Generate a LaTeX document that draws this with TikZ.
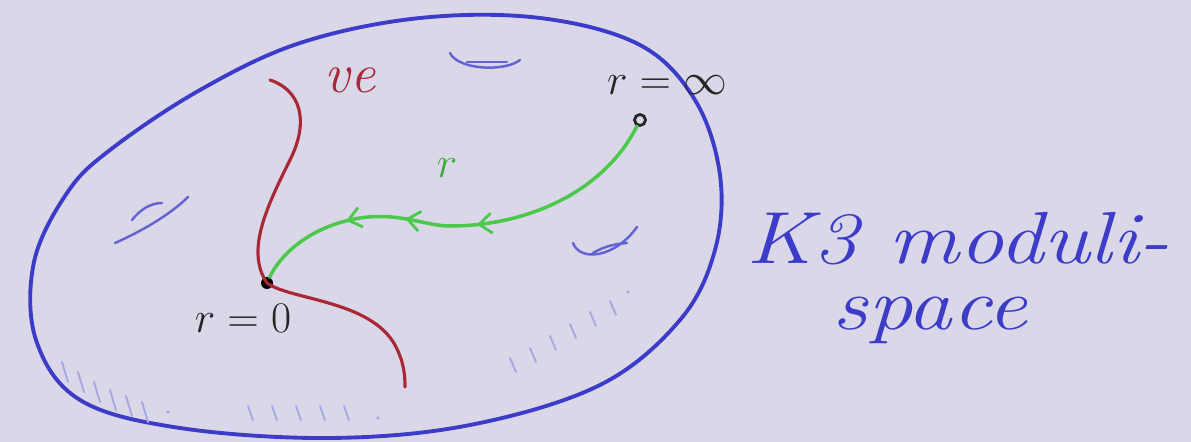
\documentclass[tikz,border=0pt]{standalone}
\usepackage{graphicx}
\usepackage{tikz}
\usetikzlibrary{arrows.meta,decorations.markings}
\definecolor{paper}{HTML}{DAD8E8}
\definecolor{kBlue}{HTML}{3C3CC8}
\definecolor{vRed}{HTML}{A82838}
\definecolor{fGreen}{HTML}{4CC84C}
\newcommand{\widetext}[1]{\scalebox{1.2}[1]{#1}}
\tikzset{
  bdry/.style={draw=kBlue, line width=2.2pt, line cap=round},
  handle/.style={draw=kBlue!80, line width=1.4pt, line cap=round},
  hatch/.style={draw=kBlue!45, line width=1.1pt, line cap=round},
  vline/.style={draw=vRed, line width=1.8pt, line cap=round},
  flow/.style={draw=fGreen, line width=2pt, line cap=round, postaction=decorate,
    decoration={markings,
      mark=at position 0.46 with {\arrow[fGreen, line width=1.6pt]{Straight Barb[length=2.5mm,width=4mm]}},
      mark=at position 0.63 with {\arrow[fGreen, line width=1.6pt]{Straight Barb[length=2.5mm,width=4mm]}},
      mark=at position 0.77 with {\arrow[fGreen, line width=1.6pt]{Straight Barb[length=2.5mm,width=4mm]}}}},
  lbl/.style={font=\fontsize{26}{30}\selectfont, text=black!85, inner sep=0pt},
  script/.style={font=\fontsize{42}{48}\selectfont\itshape,
    text=kBlue, inner sep=0pt, anchor=base}
}

\begin{document}
\begin{tikzpicture}[x=0.02cm,y=-0.02cm]
  \fill[paper] (0,0) rectangle (1191,442);
  % moduli space boundary
  \draw[bdry] plot[smooth cycle, tension=0.6] coordinates {(67,193) (110,150) (200,90) (300,43)
    (420,18) (540,18) (640,45) (695,100) (720,175) (715,250) (680,320) (600,385)
    (470,425) (330,438) (180,428) (80,400) (36,340) (34,262)};
  % handles
  \draw[handle] (450,53) .. controls (458,70) and (505,72) .. (520,60);
  \draw[handle] (467,62) -- (507,62);
  \draw[handle] (115,243) .. controls (140,232) and (170,215) .. (188,197);
  \draw[handle] (132,220) .. controls (140,210) and (150,203) .. (162,203);
  \draw[handle] (573,243) .. controls (580,262) and (615,258) .. (637,227);
  \draw[handle] (593,253) .. controls (605,246) and (615,244) .. (627,243);
  % hatching near the boundary
  \foreach \x/\y in {62/362,78/372,94/382,110/390,126/396,142/402}
    \draw[hatch] (\x,\y) -- ++(6,20);
  \foreach \x in {248,272,296,320,344}
    \draw[hatch] (\x,406) -- ++(5,14);
  \foreach \x/\y in {510/358,530/348,550/336,570/324,590/312,610/301}
    \draw[hatch] (\x,\y) -- ++(6,14);
  \fill[kBlue!45] (168,412) circle (1.8) (378,418) circle (1.8) (628,292) circle (1.8);
  % points
  \node[circle, fill=black, inner sep=0pt, minimum size=0.24cm] (rzero) at (267,283) {};
  \node[circle, draw=black!85, line width=1.6pt, fill=paper, inner sep=0pt, minimum size=0.22cm] (rinf) at (640,120) {};
  \node[lbl] (zerolbl) at (243,318) {$r=0$};
  \node[lbl] (inflbl) at (667,85) {$r=\infty$};
  % red line
  \coordinate (vtop) at (270,80);
  \coordinate (vbot) at (405,387);
  \draw[vline] (vtop) .. controls (300,90) and (310,120) .. (290,160)
    .. controls (265,210) and (246,252) .. (rzero.center)
    .. controls (290,300) and (370,300) .. (395,345)
    .. controls (404,362) and (405,375) .. (vbot);
  \node[font=\fontsize{32}{38}\selectfont\itshape, text=vRed, inner sep=0pt] (vlbl) at (350,80) {ve};
  % green flow
  \draw[flow] (rinf) .. controls (605,190) and (530,226) .. (450,226)
    .. controls (425,226) and (400,212) .. (360,218)
    .. controls (310,226) and (280,255) .. (rzero);
  \node[font=\fontsize{28}{32}\selectfont, text=fGreen!85!black, inner sep=0pt] (rlbl) at (447,168) {$r$};
  % caption
  \node[script] (k3) at (958,264) {\widetext{K3 moduli-}};
  \node[script] (space) at (930,330) {\widetext{space}};
\end{tikzpicture}
\end{document}
